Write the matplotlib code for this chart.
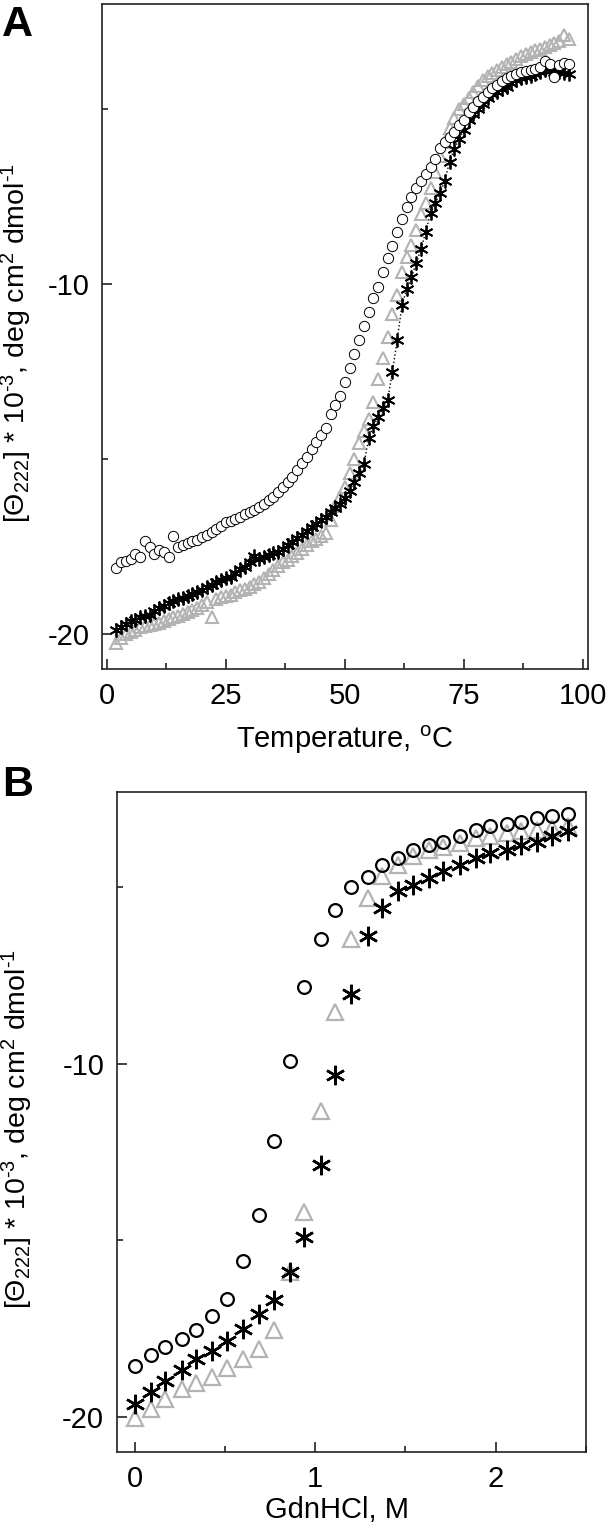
"""Thermal and GdnHCl denaturation curves (CD at 222 nm), two stacked panels."""
import matplotlib

matplotlib.use("Agg")
import matplotlib.pyplot as plt
from matplotlib.ticker import MultipleLocator

plt.rcParams["font.family"] = ["Liberation Sans", "DejaVu Sans"]
plt.rcParams["mathtext.default"] = "regular"
plt.rcParams["axes.unicode_minus"] = False

# --------------------------------------------------------------------------- #
# Panel A: thermal melts
# --------------------------------------------------------------------------- #
temp = [2, 3, 4, 5, 6, 7, 8, 9, 10, 11, 12, 13, 14, 15, 16, 17, 18, 19, 20,
        21, 22, 23, 24, 25, 26, 27, 28, 29, 30, 31, 32, 33, 34, 35, 36, 37,
        38, 39, 40, 41, 42, 43, 44, 45, 46, 47, 48, 49, 50, 51, 52, 53, 54,
        55, 56, 57, 58, 59, 60, 61, 62, 63, 64, 65, 66, 67, 68, 69, 70, 71,
        72, 73, 74, 75, 76, 77, 78, 79, 80, 81, 82, 83, 84, 85, 86, 87, 88,
        89, 90, 91, 92, 93, 94, 95, 96, 97]

melt_circle = [-18.1, -17.95, -17.9, -17.85, -17.7, -17.8, -17.35, -17.5,
               -17.7, -17.6, -17.65, -17.8, -17.2, -17.5, -17.45, -17.4,
               -17.35, -17.3, -17.22, -17.18, -17.08, -17.0, -16.9, -16.8,
               -16.76, -16.7, -16.64, -16.58, -16.5, -16.44, -16.38, -16.27,
               -16.17, -16.07, -15.94, -15.8, -15.66, -15.52, -15.3, -15.1,
               -14.93, -14.72, -14.52, -14.32, -14.1, -13.7, -13.45, -13.2,
               -12.8, -12.4, -12.0, -11.6, -11.2, -10.8, -10.41, -10.08,
               -9.65, -9.25, -8.92, -8.5, -8.15, -7.8, -7.5, -7.25, -7.05,
               -6.85, -6.65, -6.42, -6.1, -5.95, -5.8, -5.65, -5.45, -5.3,
               -5.08, -4.93, -4.78, -4.65, -4.52, -4.4, -4.3, -4.2, -4.12,
               -4.05, -4.0, -3.95, -3.92, -3.89, -3.85, -3.8, -3.62, -3.72,
               -4.08, -3.75, -3.68, -3.72]

melt_star = [-19.88, -19.8, -19.7, -19.62, -19.58, -19.52, -19.48, -19.45,
             -19.35, -19.25, -19.18, -19.12, -19.05, -19.0, -18.97, -18.92,
             -18.85, -18.8, -18.75, -18.65, -18.58, -18.5, -18.45, -18.4,
             -18.36, -18.25, -18.15, -18.07, -17.95, -17.78, -17.85, -17.8,
             -17.74, -17.68, -17.64, -17.56, -17.46, -17.36, -17.26, -17.16,
             -17.05, -16.93, -16.85, -16.75, -16.64, -16.52, -16.4, -16.28,
             -16.12, -15.9, -15.65, -15.4, -15.15, -14.4, -14.05, -13.8,
             -13.55, -13.3, -12.5, -11.6, -10.6, -10.15, -9.8, -9.4, -9.0,
             -8.5, -7.98, -7.68, -7.4, -7.05, -6.5, -6.15, -5.85, -5.6, -5.3,
             -5.13, -5.0, -4.85, -4.68, -4.58, -4.5, -4.42, -4.37, -4.27,
             -4.18, -4.12, -4.08, -4.05, -4.0, -3.95, -3.89, -3.92, -3.94,
             -3.95, -3.96, -3.99]

melt_tri = [-20.25, -20.1, -20.0, -19.95, -19.88, -19.8, -19.76, -19.74,
            -19.72, -19.69, -19.63, -19.57, -19.52, -19.47, -19.42, -19.36,
            -19.3, -19.24, -19.16, -19.07, -19.5, -18.98, -18.95, -18.92,
            -18.87, -18.8, -18.75, -18.7, -18.64, -18.57, -18.5, -18.4,
            -18.28, -18.17, -18.05, -17.95, -17.87, -17.78, -17.68, -17.56,
            -17.45, -17.35, -17.27, -17.2, -17.12, -16.75, -16.35, -16.07,
            -15.8, -15.4, -15.0, -14.55, -14.2, -13.85, -13.36, -12.7, -12.1,
            -11.5, -10.85, -10.3, -9.65, -9.22, -8.88, -8.45, -8.0, -7.68,
            -7.25, -6.8, -6.35, -5.95, -5.55, -5.25, -5.0, -4.85, -4.68,
            -4.5, -4.33, -4.18, -4.05, -3.96, -3.88, -3.8, -3.72, -3.65,
            -3.56, -3.5, -3.44, -3.38, -3.32, -3.28, -3.22, -3.18, -3.12,
            -3.06, -2.88, -3.0]

# --------------------------------------------------------------------------- #
# Panel B: chemical denaturation
# --------------------------------------------------------------------------- #
gdn = [0.0, 0.09, 0.17, 0.26, 0.34, 0.43, 0.51, 0.60, 0.69, 0.77, 0.86,
       0.94, 1.03, 1.11, 1.20, 1.29, 1.37, 1.46, 1.54, 1.63, 1.71, 1.80,
       1.89, 1.97, 2.06, 2.14, 2.23, 2.31, 2.40]

gdn_circle = [-18.55, -18.25, -18.03, -17.8, -17.55, -17.15, -16.65, -15.6,
              -14.3, -12.18, -9.94, -7.82, -6.47, -5.65, -5.0, -4.71, -4.37,
              -4.18, -3.95, -3.82, -3.72, -3.55, -3.4, -3.27, -3.21, -3.17,
              -3.05, -3.0, -2.95]

gdn_star = [-19.64, -19.3, -18.99, -18.68, -18.37, -18.13, -17.85, -17.5,
            -17.1, -16.7, -15.9, -14.92, -12.86, -10.33, -8.02, -6.38, -5.59,
            -5.13, -4.94, -4.75, -4.56, -4.37, -4.18, -4.04, -3.95, -3.81,
            -3.72, -3.57, -3.43]

gdn_tri = [-20.02, -19.78, -19.5, -19.22, -19.05, -18.86, -18.63, -18.35,
           -18.09, -17.55, -15.9, -14.21, -11.35, -8.55, -6.47, -5.32, -4.68,
           -4.37, -4.14, -3.95, -3.86, -3.75, -3.61, -3.57, -3.47, -3.43,
           -3.38, -3.33, -3.29]

GREY = "#b3b3b3"
ASTERISK = (6, 2, 0)
# U+2010 hyphen keeps mathtext from turning the exponent sign into a long minus
YLABEL = "[Θ$_{222}$] * 10$^{\u20103}$, deg cm$^{2}$ dmol$^{\u20101}$"


def style_axes(ax):
    for sp in ax.spines.values():
        sp.set_linewidth(1.2)
        sp.set_color("#222222")
    ax.tick_params(which="both", direction="in", top=False, right=False,
                   labelsize=21, pad=9, color="#222222")
    ax.tick_params(which="major", length=7, width=1.2)
    ax.tick_params(which="minor", length=4, width=1.2)


fig = plt.figure(figsize=(6.1, 15.29), dpi=100)

# ---- A ----
axA = fig.add_axes([0.1672, 0.5623, 0.7962, 0.4351])
axA.plot(temp, melt_tri, ls="none", marker="^", ms=8.5, mfc="none",
         mec=GREY, mew=1.5, zorder=2)
axA.plot(temp, melt_star, ls=":", lw=1.0, color="black", marker=ASTERISK,
         ms=10, mew=1.3, zorder=3)
axA.plot(temp, melt_circle, ls="none", marker="o", ms=7.4, mfc="white",
         mec="black", mew=0.7, zorder=4)
axA.set_xlim(-1, 101)
axA.set_ylim(-21, -2)
axA.xaxis.set_major_locator(MultipleLocator(25))
axA.xaxis.set_minor_locator(MultipleLocator(12.5))
axA.yaxis.set_major_locator(MultipleLocator(10))
axA.yaxis.set_minor_locator(MultipleLocator(5))
style_axes(axA)
axA.set_xlabel("Temperature, $^{o}$C", fontsize=21)
axA.xaxis.set_label_coords(0.5, -0.082)
axA.set_ylabel(YLABEL, fontsize=20.5)
axA.yaxis.set_label_coords(-0.14, 0.49)
fig.text(0.003, 0.997, "A", fontsize=31, fontweight="bold", va="top",
         ha="left")

# ---- B ----
axB = fig.add_axes([0.1913, 0.0502, 0.7693, 0.4317])
axB.plot(gdn, gdn_tri, ls="none", marker="^", ms=11.5, mfc="none",
         mec=GREY, mew=1.6, zorder=2)
axB.plot(gdn, gdn_star, ls="none", marker=ASTERISK, ms=14, color="black",
         mew=1.8, zorder=3)
axB.plot(gdn, gdn_circle, ls="none", marker="o", ms=9.2, mfc="none",
         mec="black", mew=1.6, zorder=4)
axB.set_xlim(-0.1, 2.5)
axB.set_ylim(-21, -2.32)
axB.xaxis.set_major_locator(MultipleLocator(1))
axB.xaxis.set_minor_locator(MultipleLocator(0.5))
axB.yaxis.set_major_locator(MultipleLocator(10))
axB.yaxis.set_minor_locator(MultipleLocator(5))
style_axes(axB)
axB.set_xlabel("GdnHCl, M", fontsize=21)
axB.xaxis.set_label_coords(0.47, -0.066)
axB.set_ylabel(YLABEL, fontsize=20.5)
axB.yaxis.set_label_coords(-0.174, 0.49)
fig.text(0.003, 0.4995, "B", fontsize=31, fontweight="bold", va="top",
         ha="left")

fig.savefig("out.png", dpi=100)
plt.close(fig)
